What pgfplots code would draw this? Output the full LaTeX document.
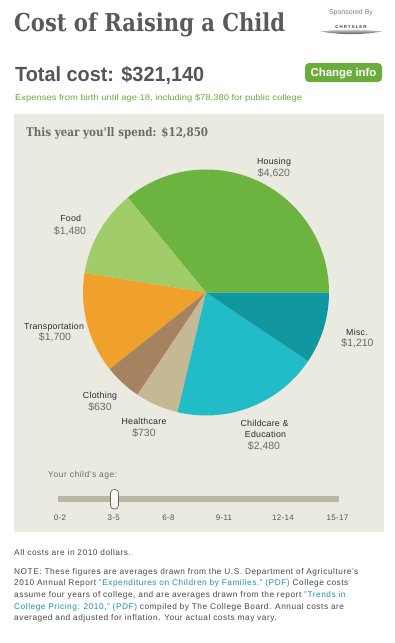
\documentclass[border=0pt]{standalone}
\usepackage{pgfplots}
\pgfplotsset{compat=1.18}
\usepackage{pgfplotstable}
\usepackage{graphicx}
\usepackage{fontspec}
\setmainfont{Liberation Sans}
\newfontfamily\slab{DejaVu Serif}

\definecolor{titlegray}{HTML}{5A5A5A}
\definecolor{totalgray}{HTML}{555555}
\definecolor{subgreen}{HTML}{6AA83B}
\definecolor{btngreen}{HTML}{6AAD3D}
\definecolor{panel}{HTML}{EBEAE0}
\definecolor{cHousing}{HTML}{6DB33F}
\definecolor{cFood}{HTML}{A0CD6A}
\definecolor{cTransport}{HTML}{F0A12C}
\definecolor{cClothing}{HTML}{A58360}
\definecolor{cHealth}{HTML}{C4B994}
\definecolor{cChild}{HTML}{22BCC9}
\definecolor{cMisc}{HTML}{11979F}
\definecolor{namec}{HTML}{2A2A2A}
\definecolor{valc}{HTML}{6A6A6A}
\definecolor{track}{HTML}{B9B7A3}
\definecolor{notec}{HTML}{474747}
\definecolor{linkc}{HTML}{1F8DB5}

\pgfplotstableread{
label value color
Housing 4620 cHousing
Food 1480 cFood
Transportation 1700 cTransport
Clothing 630 cClothing
Healthcare 730 cHealth
Childcare 2480 cChild
Misc 1210 cMisc
}\piedata

\tikzset{
  nm/.style={anchor=base, inner sep=0, font=\fontsize{8.8}{9}\selectfont\addfontfeatures{LetterSpace=3}, text=namec},
  vl/.style={anchor=base, inner sep=0, font=\fontsize{10.5}{11}\selectfont, text=valc},
  tk/.style={anchor=base, inner sep=0, font=\fontsize{8}{9}\selectfont\addfontfeatures{LetterSpace=4}, text=totalgray},
  nt/.style={anchor=base west, inner sep=0, font=\fontsize{8.3}{9}\selectfont\addfontfeatures{LetterSpace=6.5}, text=notec},
}

\begin{document}
\begin{tikzpicture}[x=1pt,y=-1pt]
\fill[white] (0,0) rectangle (395,643);

% header
\node[anchor=base west, inner sep=0, text=titlegray] at (14,31)
  {\resizebox{271pt}{\height}{\fontsize{24.7}{26}\slab\bfseries Cost of Raising a Child}};
\node[anchor=base, inner sep=0, text=gray, font=\fontsize{7}{8}\selectfont] at (351,14) {Sponsored By};
\shade[top color=gray!25, bottom color=black!75] (321,31.5) .. controls (340,29) and (362,29) .. (382,31.5)
   .. controls (362,35) and (340,35) .. (321,31.5) -- cycle;
\node[anchor=base, inner sep=0, text=black!75, font=\fontsize{4.3}{5}\bfseries\addfontfeatures{LetterSpace=25}] at (351,28) {CHRYSLER};

\node[anchor=base west, inner sep=0, text=totalgray] at (15,81.5)
  {\resizebox{189pt}{\height}{\fontsize{20.5}{22}\selectfont\bfseries Total cost: \$321,140}};
\fill[btngreen, rounded corners=4pt] (305,63) rectangle (382,82);
\node[anchor=base, inner sep=0, text=white, font=\fontsize{11.4}{12}\selectfont\bfseries] at (343.5,76.5) {Change info};
\node[anchor=base west, inner sep=0, text=subgreen] at (15,100.5)
  {\resizebox{287pt}{\height}{\fontsize{8.3}{9}\selectfont Expenses from birth until age 18, including \$78,380 for public college}};

% panel
\fill[panel] (14,114) rectangle (384,532);
\node[anchor=base west, inner sep=0, text=valc] at (26,136)
  {\resizebox{182pt}{\height}{\fontsize{11.9}{13}\slab\bfseries This year you'll spend: \$12,850}};

% pie
\begin{axis}[at={(206pt,-292.5pt)}, anchor=center, scale only axis,
  width=246pt, height=246pt, xmin=-1, xmax=1, ymin=-1, ymax=1,
  axis lines=none, clip=false]
\def\total{0}
\pgfplotsforeachungrouped \i in {0,...,6} {
  \pgfplotstablegetelem{\i}{value}\of\piedata
  \pgfmathsetmacro\total{\total+\pgfplotsretval}
}
\def\cum{0}
\pgfplotsforeachungrouped \i in {0,...,6} {
  \pgfplotstablegetelem{\i}{value}\of\piedata \let\v=\pgfplotsretval
  \pgfplotstablegetelem{\i}{color}\of\piedata \let\c=\pgfplotsretval
  \pgfmathsetmacro\a{\cum}
  \pgfmathsetmacro\b{\cum+360*(\v/\total)}
  \edef\temp{\noexpand\fill[\c] (axis cs:0,0) -- (axis cs:{cos(\a)},{sin(\a)}) arc[start angle=\a, end angle=\b, radius=123pt] -- cycle;}
  \temp
  \let\cum=\b
}
\end{axis}

% labels
\node[nm] at (274,164.3) {Housing};
\node[vl] at (274,176) {\$4,620};
\node[nm] at (70.7,221.7) {Food};
\node[vl] at (70,234) {\$1,480};
\node[nm] at (54,329) {Transportation};
\node[vl] at (55,340.7) {\$1,700};
\node[nm] at (100,398.7) {Clothing};
\node[vl] at (100,410) {\$630};
\node[nm] at (144,424) {Healthcare};
\node[vl] at (144,436) {\$730};
\node[nm] at (264.5,426) {Childcare \&};
\node[nm] at (265.5,437) {Education};
\node[vl] at (264,449) {\$2,480};
\node[nm] at (357,335) {Misc.};
\node[vl] at (357.5,346.7) {\$1,210};

% slider
\node[anchor=base west, inner sep=0, text=valc, font=\fontsize{8.5}{9}\selectfont\addfontfeatures{LetterSpace=6}] at (48,477.7) {Your child's age:};
\fill[track] (57.5,496) rectangle (339,502);
\shade[top color=white, bottom color=gray!12, draw=gray!80!black, rounded corners=3.5pt, line width=0.7pt] (110.5,489.5) rectangle (118.5,509);
\node[tk] at (60,520) {0-2};
\node[tk] at (113.7,520) {3-5};
\node[tk] at (168.5,520) {6-8};
\node[tk] at (224,520) {9-11};
\node[tk] at (283,520) {12-14};
\node[tk] at (337.5,520) {15-17};

% notes
\node[nt] at (14,555) {All costs are in 2010 dollars.};
\node[nt] at (14,574) {NOTE: These figures are averages drawn from the U.S. Department of Agriculture's};
\node[nt] at (14,585.7) {2010 Annual Report \textcolor{linkc}{"Expenditures on Children by Families." (PDF)} College costs};
\node[nt] at (14,597.4) {assume four years of college, and are averages drawn from the report \textcolor{linkc}{"Trends in}};
\node[nt] at (14,609.1) {\textcolor{linkc}{College Pricing: 2010," (PDF)} compiled by The College Board. Annual costs are};
\node[nt] at (14,620.8) {averaged and adjusted for inflation. Your actual costs may vary.};
\end{tikzpicture}
\end{document}
